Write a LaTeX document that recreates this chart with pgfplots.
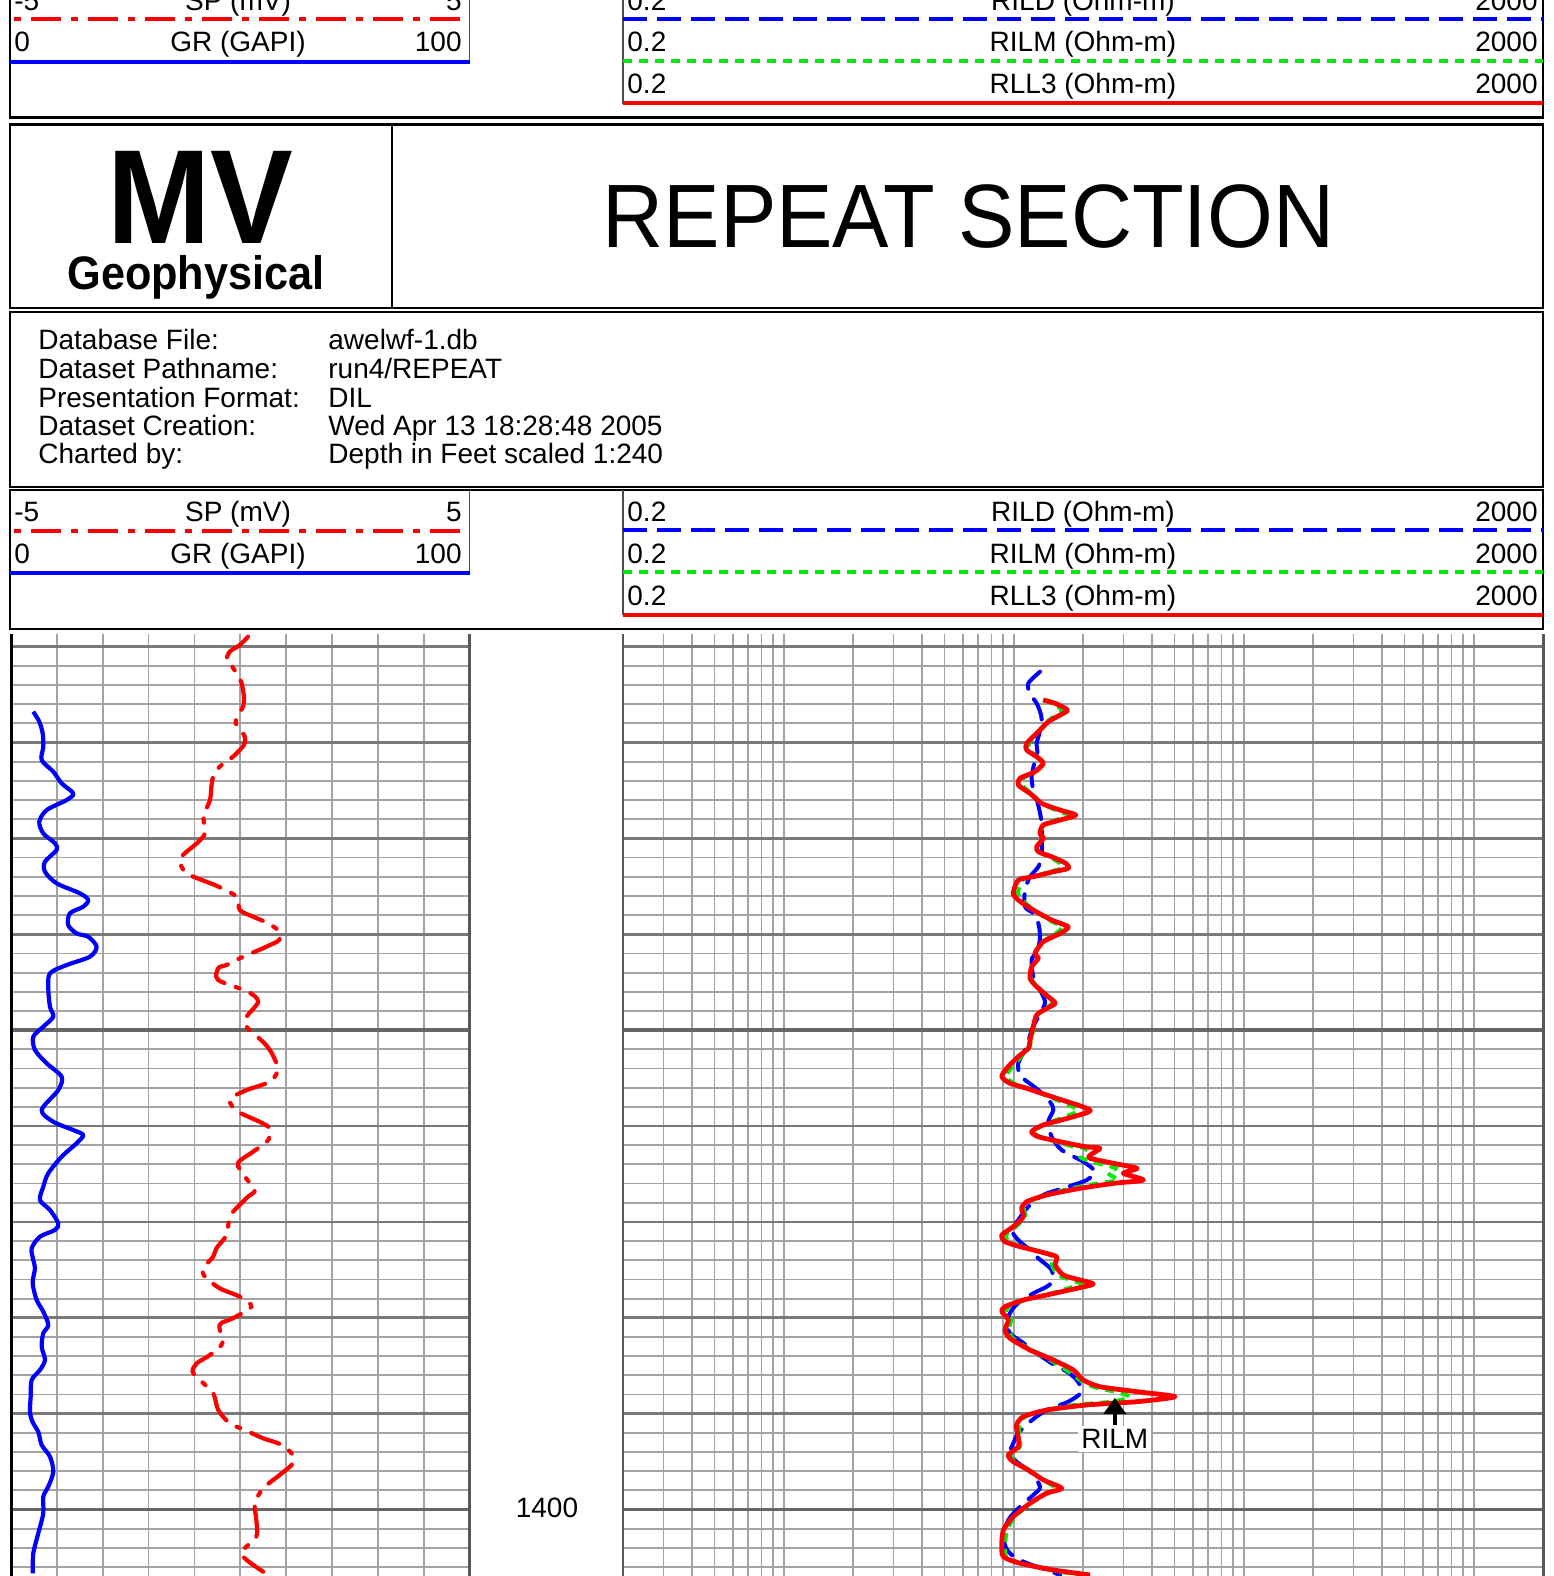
\documentclass[border=0pt]{standalone}
\usepackage{fontspec}
\setmainfont{Liberation Sans}
\usepackage{graphicx}
\usepackage{pgfplots}
\pgfplotsset{compat=1.18}
\usetikzlibrary{arrows.meta}
\definecolor{lgreen}{RGB}{0,235,0}
\newcommand{\lf}{\fontsize{14}{16}\selectfont}
\newcommand{\legblock}{%
 \draw[line width=1.3pt] (10,490) rectangle (1543,629);
 \draw[gray!60!black, line width=0.6pt] (469.5,490) -- (469.5,573);
 \draw[gray!60!black, line width=0.6pt] (623,490) -- (623,615);
 \draw[red, line width=2pt, dash pattern=on 3.5pt off 5pt on 15pt off 5pt] (14,530.5) -- (467,530.5);
 \draw[blue, line width=2pt] (10,573) -- (469.5,573);
 \draw[blue, line width=2pt, dash pattern=on 12pt off 5pt] (623,530) -- (1543,530);
 \draw[lgreen, line width=2pt, dash pattern=on 4.5pt off 3.5pt] (623,572) -- (1543,572);
 \draw[red, line width=2pt] (623,614.7) -- (1543,614.7);
 \node[anchor=base west, inner sep=0, font=\lf] at (14,521.5) {-5};
 \node[anchor=base, inner sep=0, font=\lf] at (238,521.5) {SP (mV)};
 \node[anchor=base east, inner sep=0, font=\lf] at (462,521.5) {5};
 \node[anchor=base west, inner sep=0, font=\lf] at (14,563) {0};
 \node[anchor=base, inner sep=0, font=\lf] at (238,563) {GR (GAPI)};
 \node[anchor=base east, inner sep=0, font=\lf] at (462,563) {100};
 \node[anchor=base west, inner sep=0, font=\lf] at (627,521.5) {0.2};
 \node[anchor=base, inner sep=0, font=\lf] at (1083,521.5) {RILD (Ohm-m)};
 \node[anchor=base east, inner sep=0, font=\lf] at (1538,521.5) {2000};
 \node[anchor=base west, inner sep=0, font=\lf] at (627,563) {0.2};
 \node[anchor=base, inner sep=0, font=\lf] at (1083,563) {RILM (Ohm-m)};
 \node[anchor=base east, inner sep=0, font=\lf] at (1538,563) {2000};
 \node[anchor=base west, inner sep=0, font=\lf] at (627,605) {0.2};
 \node[anchor=base, inner sep=0, font=\lf] at (1083,605) {RLL3 (Ohm-m)};
 \node[anchor=base east, inner sep=0, font=\lf] at (1538,605) {2000};
}
\pgfplotsset{track/.style={scale only axis, anchor=north west, y dir=reverse,
  ymin=1308.69, ymax=1406.93, axis line style={draw=none},
  major tick length=0pt, minor tick length=0pt, xticklabels={}, yticklabels={},
  clip=true}}
\pgfplotsset{trackgrid/.style={
  ytick={1310,1312,...,1406}, ymajorgrids=true, xmajorgrids=true,
  major grid style={gray!72, line width=0.9pt},
  extra y ticks={1310,1320,1330,1340,1360,1370,1380,1390},
  extra y tick labels={},
  extra y tick style={grid=major, major grid style={gray!95!black, line width=1.4pt}}}}
\begin{document}
\begin{tikzpicture}
\begin{scope}[x=0.5pt,y=-0.5pt]
% top strip (previous page legend)
\begin{scope}[shift={(0,-511.4)}]
\legblock
\end{scope}
% logo and title box
\draw[line width=1.3pt] (10,124.5) rectangle (1543,308);
\draw[line width=0.8pt] (392,124.5) -- (392,308);
\node[anchor=base, inner sep=0, text depth=0pt] at (200,243.3) {\scalebox{0.925}[1]{\fontsize{67}{67}\selectfont\bfseries MV}};
\node[anchor=base, inner sep=0, text height=16pt] at (196,289) {\scalebox{0.92}[1]{\fontsize{23.5}{23.5}\selectfont\bfseries Geophysical}};
\node[anchor=base, inner sep=0] at (968.5,247.5) {\scalebox{0.94}[1]{\fontsize{45}{45}\selectfont REPEAT SECTION}};
% info box
\draw[line width=1.3pt] (10,312) rectangle (1543,487);
\node[anchor=base west, inner sep=0, font=\lf] at (38,349) {Database File:};
\node[anchor=base west, inner sep=0, font=\lf] at (38,378) {Dataset Pathname:};
\node[anchor=base west, inner sep=0, font=\lf] at (38,407) {Presentation Format:};
\node[anchor=base west, inner sep=0, font=\lf] at (38,435.5) {Dataset Creation:};
\node[anchor=base west, inner sep=0, font=\lf] at (38,463.5) {Charted by:};
\node[anchor=base west, inner sep=0, font=\lf] at (328,349) {awelwf-1.db};
\node[anchor=base west, inner sep=0, font=\lf] at (328,378) {run4/REPEAT};
\node[anchor=base west, inner sep=0, font=\lf] at (328,407) {DIL};
\node[anchor=base west, inner sep=0, font=\lf] at (328,435.5) {Wed Apr 13 18:28:48 2005};
\node[anchor=base west, inner sep=0, font=\lf] at (328,463.5) {Depth in Feet scaled 1:240};
% legend block
\legblock
% depth label
\node[anchor=base, inner sep=0, font=\lf] at (547,1517) {1400};
\end{scope}

% ---------- left track: GR ----------
\begin{axis}[track, trackgrid, at={(5.5pt,-317pt)}, width=229.25pt, height=471pt,
  xmin=0, xmax=100, xtick={0,10,...,100}]
\draw[gray!80!black, line width=1.7pt] (axis cs:0,1350) -- (axis cs:100,1350);
\draw[gray!80!black, line width=1.7pt] (axis cs:0,1400) -- (axis cs:100,1400);
\addplot[blue, line width=2.1pt, smooth, line join=round] table {
g d
4.86 1316.79
6.17 1317.83
6.91 1319.05
7.04 1320.45
6.69 1321.83
9.22 1323.05
11.05 1324.26
13.57 1325.31
12.14 1326.00
7.78 1327.05
6.17 1328.27
7.04 1329.48
9.59 1330.52
9.96 1331.22
7.41 1332.44
7.41 1333.48
9.96 1334.69
15.03 1335.73
16.84 1336.43
15.75 1337.13
12.85 1337.82
12.48 1339.04
14.31 1339.91
16.84 1340.26
18.67 1341.30
17.21 1342.34
12.14 1343.21
8.50 1344.08
8.13 1345.64
8.50 1347.56
9.22 1348.60
7.04 1349.64
4.86 1350.69
5.23 1352.07
7.78 1353.46
11.05 1354.86
10.31 1356.25
6.69 1358.33
9.22 1359.55
13.57 1360.42
15.75 1360.94
14.31 1361.80
11.05 1363.20
8.13 1364.93
7.04 1366.33
6.32 1367.72
8.50 1368.76
10.31 1370.15
9.59 1370.84
6.32 1371.54
4.51 1372.75
4.86 1373.97
5.23 1374.84
4.73 1376.40
5.60 1378.14
7.04 1379.36
8.13 1380.75
7.04 1381.62
6.69 1383.01
7.41 1384.40
6.32 1385.44
4.51 1386.49
4.29 1388.23
4.14 1389.96
4.86 1391.00
5.95 1391.88
6.69 1393.26
8.50 1394.48
9.22 1396.05
8.13 1397.61
7.04 1398.65
7.04 1400.39
5.95 1402.48
4.86 1404.56
4.73 1406.65
};
\end{axis}
% ---------- left track: SP ----------
\begin{axis}[track, at={(5.5pt,-317pt)}, width=229.25pt, height=471pt,
  xmin=-5, xmax=5, xtick=\empty, ytick=\empty]
\addplot[red, line width=2.1pt, smooth, line cap=round, dash pattern=on 15pt off 6pt on 2pt off 6pt] table {
s d
0.17 1308.97
-0.01 1309.84
-0.23 1310.54
-0.30 1311.40
-0.23 1311.75
-0.05 1312.97
0.03 1313.83
0.08 1315.23
0.06 1316.27
-0.07 1317.32
-0.10 1318.00
-0.05 1318.36
0.10 1319.40
0.08 1320.27
-0.16 1321.49
-0.45 1322.53
-0.59 1323.57
-0.63 1324.62
-0.66 1326.00
-0.80 1327.74
-0.77 1329.48
-0.95 1330.52
-1.21 1331.56
-1.32 1332.26
-1.17 1333.65
-0.52 1334.94
-0.08 1336.09
-0.01 1337.47
0.28 1338.17
0.61 1338.86
0.86 1339.74
0.85 1340.60
0.57 1341.30
-0.01 1342.51
-0.30 1343.21
-0.48 1343.55
-0.48 1344.77
0.17 1346.00
0.39 1347.04
0.14 1348.60
0.14 1349.64
0.53 1351.38
0.71 1352.60
0.82 1354.16
0.64 1355.38
0.14 1356.25
-0.16 1356.95
-0.23 1357.47
-0.05 1358.51
0.61 1360.07
0.61 1361.46
0.28 1362.68
-0.05 1363.89
0.10 1365.29
0.32 1366.67
0.17 1367.37
-0.05 1368.41
-0.23 1369.46
-0.30 1371.37
-0.52 1372.75
-0.59 1373.63
-0.81 1374.84
-0.77 1375.71
-0.45 1376.92
-0.01 1377.80
0.24 1378.84
-0.16 1380.05
-0.45 1380.75
-0.39 1382.66
-0.66 1383.88
-0.95 1384.75
-1.04 1385.62
-0.88 1386.49
-0.59 1387.88
-0.48 1389.62
-0.23 1391.00
0.10 1391.70
0.50 1392.57
0.86 1393.16
1.12 1394.13
1.15 1395.17
0.86 1396.39
0.50 1397.78
0.32 1399.35
0.35 1401.09
0.35 1402.83
0.03 1404.39
0.14 1405.26
0.50 1406.48
};
\end{axis}
% ---------- right track: resistivity ----------
\begin{axis}[track, trackgrid, at={(311.5pt,-317pt)}, width=460pt, height=471pt,
  xmode=log, xmin=0.2, xmax=2000,
  xtick={0.2,0.3,0.4,0.5,0.6,0.7,0.8,0.9,1,2,3,4,5,6,7,8,9,10,20,30,40,50,60,70,80,90,100,200,300,400,500,600,700,800,900,1000,2000}]
\draw[gray!80!black, line width=1.7pt] (axis cs:0.2,1350) -- (axis cs:2000,1350);
\draw[gray!80!black, line width=1.7pt] (axis cs:0.2,1400) -- (axis cs:2000,1400);
\addplot[blue, line width=2pt, smooth, line cap=round, dash pattern=on 11pt off 6pt] table {
r d
13.01 1312.62
11.57 1313.83
11.77 1314.88
12.58 1315.92
13.01 1316.79
13.23 1317.66
12.92 1319.05
12.58 1320.09
12.66 1321.13
12.24 1322.35
11.96 1323.57
12.15 1324.96
12.66 1326.18
13.01 1327.39
13.23 1328.43
13.23 1329.83
13.23 1331.74
12.79 1332.96
11.77 1334.00
11.19 1335.39
11.19 1337.13
12.15 1337.82
12.79 1338.86
13.01 1340.26
12.79 1341.30
12.15 1342.34
11.96 1342.69
12.15 1344.43
13.23 1346.16
13.67 1347.20
12.79 1348.60
11.96 1349.99
11.38 1351.73
10.46 1353.46
10.64 1354.68
11.19 1355.20
12.79 1356.25
14.37 1357.47
14.86 1358.33
14.13 1359.55
14.61 1361.12
16.16 1362.50
20.06 1363.72
22.56 1364.77
20.77 1365.63
18.14 1366.15
15.90 1366.60
13.44 1367.19
11.57 1368.41
10.46 1369.80
9.80 1370.84
10.46 1371.89
11.77 1372.93
12.79 1373.80
14.61 1375.01
14.61 1376.24
13.90 1376.76
12.15 1377.45
10.64 1378.32
9.80 1379.19
9.32 1380.41
9.63 1381.62
10.82 1382.49
12.36 1383.54
14.61 1384.75
17.03 1385.62
18.78 1386.49
19.74 1387.71
17.26 1388.75
13.90 1389.62
11.77 1390.83
10.46 1392.04
9.95 1393.09
9.63 1394.13
10.28 1395.01
11.77 1396.05
13.01 1397.61
12.15 1398.48
10.64 1399.70
9.47 1401.09
9.01 1402.83
9.47 1404.39
11.01 1405.43
13.90 1406.30
15.90 1406.82
};
\addplot[lgreen, line width=2pt, smooth, tension=0.4, dash pattern=on 4.5pt off 3.5pt] table {
r d
13.40 1315.58
14.66 1315.92
16.21 1316.62
15.26 1317.14
13.95 1317.84
12.75 1318.88
11.65 1320.09
11.65 1320.79
12.62 1321.49
13.27 1322.18
12.37 1323.05
10.97 1323.74
10.86 1324.44
11.89 1325.31
13.14 1326.35
15.26 1327.05
17.21 1327.57
15.26 1328.09
13.40 1328.61
13.01 1329.48
13.40 1330.00
12.62 1330.87
12.75 1331.40
14.22 1331.92
15.90 1332.60
16.21 1333.13
14.37 1333.48
12.24 1334.00
10.86 1334.35
10.43 1335.73
10.86 1336.43
12.24 1337.47
14.22 1338.52
16.21 1339.22
15.26 1339.91
13.40 1340.78
12.37 1341.99
12.75 1342.51
12.00 1343.39
11.89 1344.60
12.62 1345.47
13.95 1346.52
14.66 1347.20
13.81 1347.73
12.62 1348.42
12.24 1349.64
11.89 1351.03
11.65 1351.90
10.75 1352.77
9.72 1353.98
9.25 1354.86
10.02 1355.55
11.53 1356.07
14.81 1357.11
19.02 1358.33
16.70 1359.03
13.40 1359.89
12.24 1360.59
13.01 1361.12
15.26 1361.63
18.27 1362.16
20.62 1362.32
19.41 1363.03
19.80 1363.37
23.24 1363.89
27.77 1364.41
25.69 1364.93
28.33 1365.63
23.24 1365.98
17.74 1366.50
13.81 1367.19
11.53 1367.89
11.07 1368.58
11.19 1369.46
10.22 1370.50
9.25 1371.37
9.54 1372.06
10.86 1372.58
13.01 1373.11
14.81 1373.63
14.66 1374.49
15.57 1375.54
17.74 1376.06
19.61 1376.48
17.21 1376.93
13.81 1377.62
11.19 1378.14
9.54 1378.84
9.25 1379.36
9.72 1380.23
9.54 1381.27
9.92 1382.14
11.89 1383.36
14.37 1384.40
16.87 1385.44
19.41 1386.49
22.11 1387.19
27.49 1387.71
32.03 1388.23
26.74 1388.75
18.45 1389.09
13.81 1389.62
11.19 1390.31
10.53 1391.18
10.64 1392.40
10.64 1393.44
9.72 1394.31
10.12 1395.01
11.65 1395.87
13.40 1396.91
15.26 1397.78
13.81 1398.30
11.89 1399.34
10.12 1400.74
9.35 1402.13
9.16 1403.69
9.25 1404.91
10.75 1405.60
14.37 1406.30
19.41 1406.82
};
\addplot[red, line width=2.4pt, smooth, tension=0.4, line join=round] table {
r d
13.44 1315.58
15.14 1315.92
17.13 1316.62
15.90 1317.14
14.13 1317.84
12.79 1318.88
11.38 1320.09
11.38 1320.79
12.58 1321.49
13.44 1322.18
12.36 1323.05
10.64 1323.74
10.46 1324.44
11.77 1325.31
13.23 1326.35
15.90 1327.05
18.61 1327.57
15.90 1328.09
13.44 1328.61
13.01 1329.48
13.44 1330.00
12.58 1330.87
12.79 1331.40
14.61 1331.92
16.83 1332.60
17.26 1333.13
14.86 1333.48
12.15 1334.00
10.46 1334.35
9.95 1335.73
10.46 1336.43
12.15 1337.47
14.61 1338.52
17.26 1339.22
15.90 1339.91
13.44 1340.78
12.36 1341.99
12.79 1342.51
11.96 1343.39
11.77 1344.60
12.58 1345.47
14.13 1346.52
15.14 1347.20
13.90 1347.73
12.58 1348.42
12.15 1349.64
11.77 1351.03
11.57 1351.90
10.46 1352.77
9.32 1353.98
8.87 1354.86
9.63 1355.55
11.38 1356.07
15.36 1357.11
21.47 1358.33
18.14 1359.03
13.44 1359.89
11.96 1360.59
12.79 1361.12
15.90 1361.63
20.40 1362.16
23.71 1362.32
21.47 1363.03
21.47 1363.37
27.09 1363.89
34.36 1364.41
29.96 1364.93
36.60 1365.63
27.09 1365.98
19.41 1366.50
13.90 1367.19
11.38 1367.89
10.82 1368.58
11.01 1369.46
9.95 1370.50
8.87 1371.37
9.16 1372.06
10.64 1372.58
13.01 1373.11
15.36 1373.63
15.14 1374.49
16.41 1375.54
19.41 1376.06
22.17 1376.48
18.78 1376.93
13.90 1377.62
11.01 1378.14
9.16 1378.84
8.87 1379.36
9.47 1380.23
9.16 1381.27
9.63 1382.14
11.77 1383.36
14.86 1384.40
18.14 1385.44
20.06 1386.49
23.71 1387.19
34.36 1387.71
50.24 1388.23
34.36 1388.75
20.77 1389.09
13.90 1389.62
11.01 1390.31
10.28 1391.18
10.46 1392.40
10.46 1393.44
9.47 1394.31
9.95 1395.01
11.57 1395.87
13.44 1396.91
16.16 1397.78
13.90 1398.30
11.77 1399.34
9.95 1400.74
9.01 1402.13
8.87 1403.69
9.01 1404.91
10.64 1405.60
14.86 1406.30
21.47 1406.82
};
\node[fill=white, inner sep=1.5pt, font=\lf] at (axis cs:27.5,1392.65) {RILM};
\draw[line width=1.8pt, -{Triangle[width=11pt,length=8pt]}] (axis cs:27.5,1391.2) -- (axis cs:27.5,1388.35);
\end{axis}
% track borders
\begin{scope}[x=0.5pt,y=-0.5pt]
\draw[black, line width=1.5pt] (11,634) -- (11,1580);
\draw[gray!70!black, line width=1.5pt] (469.5,634) -- (469.5,1580);
\draw[gray!70!black, line width=1pt] (623,634) -- (623,1580);
\draw[gray!70!black, line width=1.5pt] (1543,634) -- (1543,1580);
\end{scope}
\pgfresetboundingbox
\path[use as bounding box] (0pt,0pt) rectangle (777pt,-788pt);
\end{tikzpicture}
\end{document}
